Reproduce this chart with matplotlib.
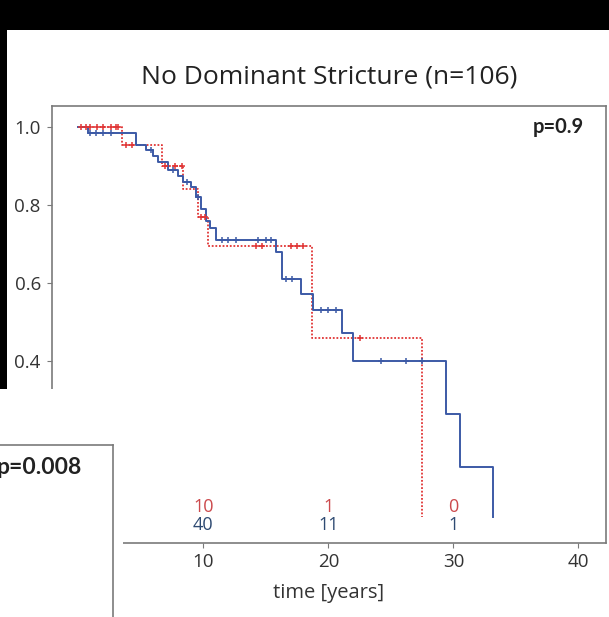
import matplotlib
matplotlib.use("Agg")

import matplotlib.pyplot as plt
from matplotlib.patches import Rectangle
import numpy as np

# =========================================================
# DATA
# =========================================================

blue_times = [0, 0.8, 4.6, 5.4, 6.0, 6.4, 7.2, 8.0, 8.4, 9.0, 9.4, 9.8, 10.2, 10.5,
              11.0, 15.8, 16.3, 17.8, 18.8, 21.1, 22.0, 29.4, 30.5, 33.2]
blue_surv = [1.0, 0.985, 0.955, 0.94, 0.925, 0.91, 0.89, 0.875, 0.86, 0.845, 0.82, 0.79,
             0.76, 0.74, 0.71, 0.68, 0.61, 0.572, 0.53, 0.472, 0.40, 0.264, 0.128, 0.0]
blue_censor = [0.9, 1.4, 2.0, 2.6, 5.8, 7.6, 8.7, 9.6, 11.5, 12.0, 12.6, 14.4, 15.0, 15.4,
               16.6, 17.1, 19.4, 20.0, 20.6, 24.2, 26.2, 27.5]

red_times = [0, 3.5, 6.7, 8.4, 9.6, 10.4, 18.7, 27.5]
red_surv = [1.0, 0.955, 0.90, 0.84, 0.77, 0.695, 0.46, 0.0]
red_censor = [0.2, 0.6, 0.9, 1.5, 2.0, 2.6, 3.0, 3.2, 3.8, 4.3, 6.9, 7.7, 8.3,
              9.8, 10.1, 14.2, 14.7, 17.0, 17.5, 18.0, 22.5]

risk_times = [10, 20, 30]
risk_red = [10, 1, 0]
risk_blue = [40, 11, 1]

title = "No Dominant Stricture (n=106)"
p_main = "p=0.9"
p_other = "p=0.008"

# =========================================================
# STYLE
# =========================================================

plt.rcParams["font.family"] = ["Open Sans", "DejaVu Sans"]
bold_family = ["Lato", "DejaVu Sans"]

c_blue = "#3c5aa6"
c_red = "#e03535"
c_blue_txt = "#2e4a72"
c_red_txt = "#cc4a4d"
c_spine = "#7a7a7a"

W, H = 609, 617


def fx(px):
    return px / W


def fy(py):
    return 1 - py / H


def step_value(times, surv, t):
    i = np.searchsorted(times, t, side="right") - 1
    return surv[i]


fig = plt.figure(figsize=(W / 100, H / 100), dpi=100, facecolor="white")

# main axes
ax = fig.add_axes([fx(52), fy(543), fx(606) - fx(52), fy(106) - fy(543)])
ax.set_zorder(1)

ax.step(blue_times, blue_surv, where="post", color=c_blue, lw=1.4, zorder=3)
ax.step(red_times, red_surv, where="post", color=c_red, lw=1.3,
        linestyle=(0, (1, 1)), zorder=2)

ax.plot(blue_censor, [step_value(blue_times, blue_surv, t) for t in blue_censor],
        linestyle="None", marker="+", ms=5, mew=1.1, color=c_blue, zorder=4)
ax.plot(red_censor, [step_value(red_times, red_surv, t) for t in red_censor],
        linestyle="None", marker="+", ms=5, mew=1.1, color=c_red, zorder=4)

# numbers at risk
for t, r, b in zip(risk_times, risk_red, risk_blue):
    ax.text(t, 0.026, str(r), color=c_red_txt, fontsize=13, ha="center", va="center")
    ax.text(t, -0.02, str(b), color=c_blue_txt, fontsize=13, ha="center", va="center")

ax.text(0.96, 0.952, p_main, transform=ax.transAxes, fontsize=14.5,
        family=bold_family, fontweight="bold", ha="right", va="center",
        color="#222222")

ax.set_xlim(-2.1, 42.2)
ax.set_ylim(-0.067, 1.054)
ax.set_xticks([0, 10, 20, 30, 40])
ax.set_yticks([0.0, 0.2, 0.4, 0.6, 0.8, 1.0])
ax.set_yticklabels(["0.0", "0.2", "0.4", "0.6", "0.8", "1.0"])
ax.tick_params(direction="out", length=3.6, width=0.8, color=c_spine,
               labelsize=13.5, labelcolor="#333333", pad=4.5)
ax.tick_params(axis="x", pad=3.5)
for s in ax.spines.values():
    s.set_color(c_spine)
    s.set_linewidth(1.2)

ax.set_xlabel("time [years]", fontsize=14.5, color="#333333", labelpad=9)
ax.set_title(title, fontsize=19, color="#222222", pad=16)

# =========================================================
# SCREENSHOT PIECES (black borders + overlapping panel)
# =========================================================

fig.add_artist(Rectangle((0, fy(30)), 1, 30 / H, transform=fig.transFigure,
                         facecolor="black", edgecolor="none", zorder=12))
fig.add_artist(Rectangle((0, fy(389)), fx(7), (389 - 30) / H, transform=fig.transFigure,
                         facecolor="black", edgecolor="none", zorder=12))
fig.add_artist(Rectangle((0, 0), fx(123), fy(389), transform=fig.transFigure,
                         facecolor="white", edgecolor="none", zorder=10))

ax2 = fig.add_axes([-0.2, -0.2, fx(113) + 0.2, fy(445) + 0.2])
ax2.set_zorder(11)
ax2.set_xticks([])
ax2.set_yticks([])
for s in ax2.spines.values():
    s.set_color(c_spine)
    s.set_linewidth(1.2)
ax2.text(fx(82), fy(468), p_other, transform=fig.transFigure, fontsize=16.5,
         family=bold_family, fontweight="bold", ha="right", va="center",
         color="#222222")

fig.savefig("out.png", dpi=100, facecolor="white")
